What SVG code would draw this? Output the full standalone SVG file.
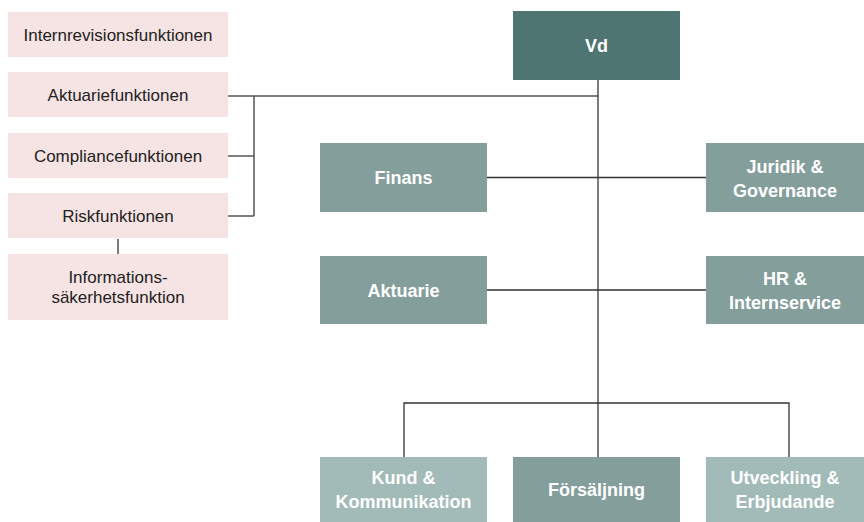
<svg xmlns="http://www.w3.org/2000/svg" width="864" height="522" viewBox="0 0 864 522">
<style>
.pink{fill:#f6e4e4}
.dark{fill:#4e7572}
.mid{fill:#849e9c}
.light{fill:#a2bab8}
.pt{font-family:"Liberation Sans",Arial,sans-serif;font-size:17px;fill:#222;text-anchor:middle}
.wt{font-family:"Liberation Sans",Arial,sans-serif;font-size:18px;font-weight:bold;fill:#fff;text-anchor:middle}
.ln{stroke:#333;stroke-width:1.3;fill:none}
.lg{stroke:#555;stroke-width:1.5;fill:none}
</style>
<rect width="864" height="522" fill="#fff"/>
<g id="connectors">
<path class="lg" d="M228 96H254M228 156H254M228 216H254M254 96V216M254 96H598"/>
<path class="ln" d="M118 239V254"/>
<path class="ln" d="M598 80V457"/>
<path class="ln" d="M487 177.5H706M487 290H706"/>
<path class="ln" d="M404 457V403H789V457"/>
</g>
<g id="internrevision"><rect class="pink" x="8" y="12" width="220" height="45"/><text class="pt" x="118" y="40.5">Internrevisionsfunktionen</text></g>
<g id="aktuariefunktionen"><rect class="pink" x="8" y="72" width="220" height="45"/><text class="pt" x="118" y="100.5">Aktuariefunktionen</text></g>
<g id="compliance"><rect class="pink" x="8" y="133" width="220" height="45"/><text class="pt" x="118" y="161.5">Compliancefunktionen</text></g>
<g id="risk"><rect class="pink" x="8" y="193" width="220" height="45"/><text class="pt" x="118" y="221.5">Riskfunktionen</text></g>
<g id="infosak"><rect class="pink" x="8" y="254" width="220" height="66"/><text class="pt" x="118" y="283">Informations-</text><text class="pt" x="118" y="303">säkerhetsfunktion</text></g>
<g id="vd"><rect class="dark" x="513" y="11" width="167" height="69"/><text class="wt" x="596.5" y="52">Vd</text></g>
<g id="finans"><rect class="mid" x="320" y="143" width="167" height="69"/><text class="wt" x="403.5" y="184">Finans</text></g>
<g id="juridik"><rect class="mid" x="706" y="143" width="158" height="69"/><text class="wt" x="785" y="172.5">Juridik &amp;</text><text class="wt" x="785" y="196.5">Governance</text></g>
<g id="aktuarie"><rect class="mid" x="320" y="256" width="167" height="68"/><text class="wt" x="403.5" y="296.5">Aktuarie</text></g>
<g id="hr"><rect class="mid" x="706" y="256" width="158" height="68"/><text class="wt" x="785" y="285">HR &amp;</text><text class="wt" x="785" y="309">Internservice</text></g>
<g id="kund"><rect class="light" x="320" y="457" width="167" height="65"/><text class="wt" x="403.5" y="483.5">Kund &amp;</text><text class="wt" x="403.5" y="507.5">Kommunikation</text></g>
<g id="forsaljning"><rect class="mid" x="513" y="457" width="167" height="65"/><text class="wt" x="596.5" y="495.5">Försäljning</text></g>
<g id="utveckling"><rect class="light" x="706" y="457" width="158" height="65"/><text class="wt" x="785" y="483.5">Utveckling &amp;</text><text class="wt" x="785" y="507.5">Erbjudande</text></g>
</svg>
